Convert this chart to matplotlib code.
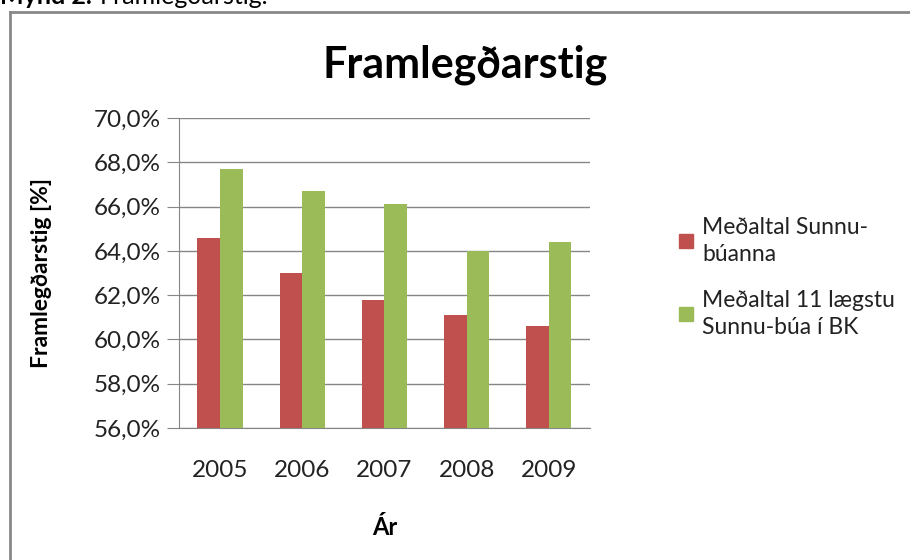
import matplotlib.pyplot as plt
import matplotlib.patches as mpatches
from matplotlib.ticker import FuncFormatter
import numpy as np

plt.rcParams['font.family'] = ['Lato', 'DejaVu Sans']

years = ['2005', '2006', '2007', '2008', '2009']
sunnu_avg = [64.6, 63.0, 61.8, 61.1, 60.6]
lowest11_avg = [67.7, 66.7, 66.1, 64.0, 64.4]
series_labels = ['Meðaltal Sunnu-\nbúanna', 'Meðaltal 11 lægstu\nSunnu-búa í BK']
colors = ['#C0504D', '#9BBB59']

fig = plt.figure(figsize=(9.1, 5.6), dpi=100)
ax = fig.add_axes([0.1967, 0.2357, 0.4516, 0.5536])

x = np.arange(len(years))
w = 0.275
ax.bar(x - w / 2, sunnu_avg, w, color=colors[0], zorder=3)
ax.bar(x + w / 2, lowest11_avg, w, color=colors[1], zorder=3)

ax.set_ylim(56, 70)
ax.set_xlim(-0.5, len(years) - 0.5)
ax.set_yticks(np.arange(56, 70.1, 2))
ax.yaxis.set_major_formatter(FuncFormatter(lambda v, p: f'{v:.1f}%'.replace('.', ',')))
ax.set_xticks(x)
ax.set_xticklabels(years)
ax.grid(axis='y', color='#868686', linewidth=1, zorder=0)

for s in ['top', 'right']:
    ax.spines[s].set_visible(False)
for s in ['left', 'bottom']:
    ax.spines[s].set_color('#868686')
ax.tick_params(axis='y', length=9, color='#868686', labelsize=17.5, labelcolor='#222222', pad=4)
ax.tick_params(axis='x', length=0, labelsize=17.5, labelcolor='#222222', pad=23)

ax.set_ylabel('Framlegðarstig [%]', fontsize=16.5, fontweight='bold', labelpad=30)
ax.set_xlabel('Ár', fontsize=17, fontweight='bold', labelpad=25)
fig.text(0.511, 0.885, 'Framlegðarstig', fontsize=31, fontweight='bold',
         ha='center', va='center')

handles = [mpatches.Patch(color=c) for c in colors]
leg = fig.legend(handles, series_labels, loc='center left', bbox_to_anchor=(0.724, 0.505),
                 frameon=False, fontsize=16.5, handlelength=0.6, handleheight=0.6,
                 handletextpad=0.4, labelspacing=1.1, labelcolor='#222222')
for t in leg.get_texts():
    t.set_linespacing(1.35)

# chart border (open at right and bottom, cut off by the page)
fig.add_artist(plt.Line2D([10 / 910, 10 / 910], [0, 1 - 12 / 560], transform=fig.transFigure,
                          color='#888888', linewidth=2))
fig.add_artist(plt.Line2D([10 / 910, 1], [1 - 12 / 560, 1 - 12 / 560], transform=fig.transFigure,
                          color='#888888', linewidth=2))

# page caption, clipped at top like in the source page
fig.text(0.0, 1 - 4 / 560, 'Mynd 2.', fontsize=18, fontweight='bold', va='baseline')
fig.text(100 / 910, 1 - 4 / 560, 'Framlegðarstig.', fontsize=18, va='baseline')

fig.savefig('out.png', dpi=100)
